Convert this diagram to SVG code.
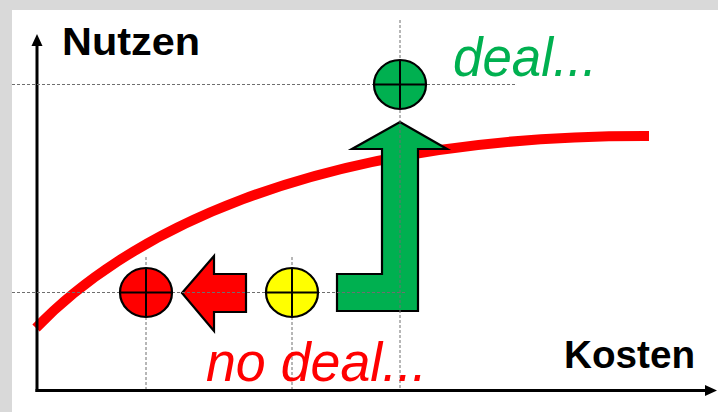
<svg xmlns="http://www.w3.org/2000/svg" width="718" height="412" viewBox="0 0 718 412">
<defs>
<style>
.dash{stroke:#6e6e6e;stroke-width:1;stroke-dasharray:3 2;fill:none}
.ax{stroke:#000;stroke-width:3;fill:none}
.shape{stroke:#000;stroke-width:2.2;stroke-linejoin:miter}
.cross{stroke:#000;stroke-width:2;fill:none}
.lbl{font-family:"Liberation Sans",Arial,sans-serif;font-weight:bold;font-size:39px;fill:#000}
.it{font-family:"Liberation Sans",Arial,sans-serif;font-style:italic;font-size:56px}
</style>
</defs>
<rect x="0" y="0" width="718" height="412" fill="#d9d9d9"/>
<rect x="12" y="10" width="706" height="402" fill="#fff"/>
<g id="curve">
<path d="M36,328 C118,242 300,135 649,136" stroke="#ff0000" stroke-width="10" fill="none"/>
</g>
<g id="axes">
<line class="ax" x1="37" y1="392" x2="37" y2="44"/>
<polygon points="37,34 31.5,46 42.5,46" fill="#000"/>
<line class="ax" x1="35.5" y1="390.5" x2="706" y2="390.5"/>
<polygon points="717,390.5 705,385 705,396" fill="#000"/>
</g>
<g id="arrow-green">
<polygon class="shape" fill="#00b050" points="337,274 382,274 382,149 352,149 400,122 447,149 418,149 418,311 337,311"/>
</g>
<g id="arrow-red">
<polygon class="shape" fill="#ff0000" points="182,293 214,256 214,274 246,274 246,312 214,312 214,331"/>
</g>
<g id="guides">
<line class="dash" x1="12" y1="84.5" x2="515" y2="84.5"/>
<line class="dash" x1="12" y1="292.5" x2="405" y2="292.5"/>
<line class="dash" x1="400" y1="20" x2="400" y2="389"/>
<line class="dash" x1="146" y1="257" x2="146" y2="389"/>
<line class="dash" x1="292" y1="257" x2="292" y2="389"/>
</g>
<g id="point-red">
<ellipse class="shape" fill="#ff0000" cx="146" cy="292.5" rx="26" ry="24.5"/>
<path class="cross" d="M120,292.5H172M146,268V317"/>
</g>
<g id="point-yellow">
<ellipse class="shape" fill="#ffff00" cx="292" cy="292.5" rx="26" ry="24.5"/>
<path class="cross" d="M266,292.5H318M292,268V317"/>
</g>
<g id="point-green">
<ellipse class="shape" fill="#00b050" cx="400" cy="84.5" rx="26" ry="24.5"/>
<path class="cross" d="M374,84.5H426M400,60V109"/>
</g>
<g id="labels">
<text class="lbl" x="62" y="55" textLength="138" lengthAdjust="spacingAndGlyphs">Nutzen</text>
<text class="lbl" x="564" y="368" textLength="131" lengthAdjust="spacingAndGlyphs">Kosten</text>
<text class="it" x="453" y="76" fill="#00b050" textLength="144" lengthAdjust="spacingAndGlyphs">deal...</text>
<text class="it" x="206" y="381" fill="#ff0000" textLength="221" lengthAdjust="spacingAndGlyphs">no deal...</text>
</g>
</svg>
